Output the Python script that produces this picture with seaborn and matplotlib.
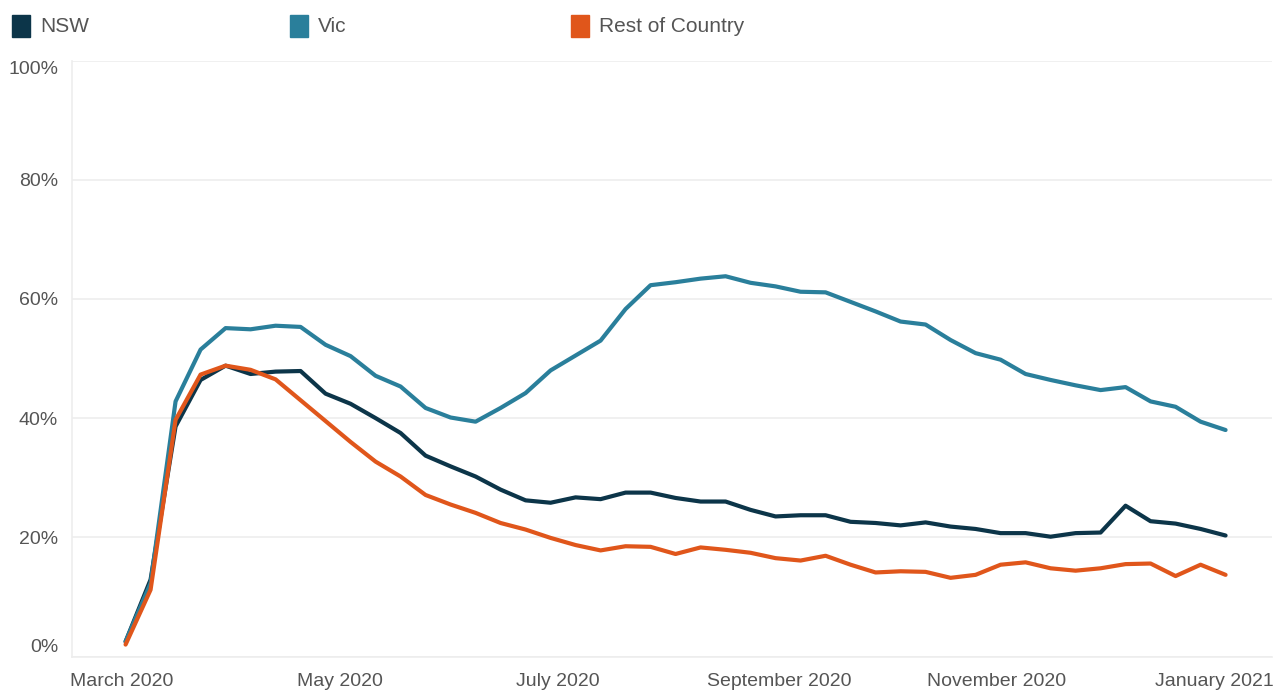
import matplotlib
matplotlib.use('Agg')
import matplotlib.pyplot as plt
import matplotlib.dates as mdates
import matplotlib.patches as mpatches
import numpy as np
import pandas as pd
import seaborn as sns

# weekly series, % share
WEEK_START = '2020-03-02'
SERIES = ['NSW', 'Vic', 'Rest of Country']
COLORS = ['#0c3549', '#2a7f9b', '#e0561b']

nsw = [2.5, 12.9, 38.6, 46.4, 48.8, 47.4, 47.8, 47.9, 44.1, 42.4, 40.0, 37.5,
       33.7, 31.9, 30.2, 28.0, 26.2, 25.8, 26.7, 26.4, 27.5, 27.5, 26.6, 26.0,
       26.0, 24.6, 23.5, 23.7, 23.7, 22.6, 22.4, 22.0, 22.5, 21.8, 21.4, 20.7,
       20.7, 20.1, 20.7, 20.8, 25.3, 22.7, 22.3, 21.4, 20.3]
vic = [2.5, 12.3, 42.8, 51.5, 55.1, 54.9, 55.5, 55.3, 52.3, 50.4, 47.1, 45.3,
       41.7, 40.1, 39.4, 41.7, 44.2, 48.0, 50.5, 53.0, 58.3, 62.3, 62.8, 63.4,
       63.8, 62.7, 62.1, 61.2, 61.1, 59.5, 57.9, 56.2, 55.7, 53.1, 50.9, 49.8,
       47.4, 46.4, 45.5, 44.7, 45.2, 42.8, 41.9, 39.4, 38.0]
rest = [2.0, 11.2, 39.7, 47.3, 48.8, 48.1, 46.5, 43.0, 39.5, 36.0, 32.7, 30.2,
        27.1, 25.5, 24.1, 22.4, 21.3, 19.9, 18.7, 17.8, 18.5, 18.4, 17.2, 18.3,
        17.9, 17.4, 16.5, 16.1, 16.9, 15.4, 14.1, 14.3, 14.2, 13.2, 13.7, 15.4,
        15.8, 14.8, 14.4, 14.8, 15.5, 15.6, 13.5, 15.4, 13.7]

Y_TICKS = [0, 20, 40, 60, 80, 100]
Y_LABELS = ['0%', '20%', '40%', '60%', '80%', '100%']

dates = pd.date_range(WEEK_START, periods=len(nsw), freq='7D')
df = pd.concat([
    pd.DataFrame({'Week': dates, 'Share': vals, 'Region': name})
    for name, vals in zip(SERIES, [nsw, vic, rest])
])

sns.set_style('white')
plt.rcParams['font.family'] = ['Liberation Sans', 'DejaVu Sans']

GRID = '#ededed'
TEXT = '#555555'

fig = plt.figure(figsize=(12.75, 6.91), dpi=100)
ax = fig.add_axes([72 / 1275, 34.5 / 691, 1200 / 1275, 596 / 691])

palette = dict(zip(SERIES, COLORS))
sns.lineplot(data=df, x='Week', y='Share', hue='Region', palette=palette,
             linewidth=3.0, ax=ax, legend=False)

ax.set_ylim(0, 100)
ax.set_xlim(pd.Timestamp('2020-02-16'), pd.Timestamp('2021-01-17'))
ax.set_yticks(Y_TICKS)
ax.set_yticklabels(Y_LABELS)
ax.yaxis.grid(True, color=GRID, linewidth=1.2)
ax.set_axisbelow(True)
ax.tick_params(axis='y', length=0, pad=10, labelsize=14, labelcolor=TEXT)
# tableau nudges the end labels inward
ylabs = ax.get_yticklabels()
ylabs[0].set_va('bottom')
ylabs[-1].set_va('top')

ax.xaxis.set_major_locator(mdates.MonthLocator(bymonth=[1, 3, 5, 7, 9, 11]))
ax.xaxis.set_minor_locator(mdates.MonthLocator())
ax.xaxis.set_major_formatter(mdates.DateFormatter('%B %Y'))
ax.tick_params(axis='x', which='both', length=7, width=1, color=GRID,
               labelsize=14, labelcolor=TEXT, pad=5)

for side in ['top', 'right']:
    ax.spines[side].set_visible(False)
for side in ['left', 'bottom']:
    ax.spines[side].set_color(GRID)
    ax.spines[side].set_linewidth(1.2)
ax.set_xlabel('')
ax.set_ylabel('')

# legend row across the top
legend_x = [12, 290, 571]
for name, color, lx in zip(SERIES, COLORS, legend_x):
    fig.patches.append(mpatches.Rectangle((lx / 1275, (691 - 37) / 691), 18 / 1275, 22 / 691,
                                          transform=fig.transFigure, color=color))
    fig.text((lx + 28) / 1275, (691 - 27) / 691, name, fontsize=15, color=TEXT, va='center')

fig.savefig('out.png', dpi=100)
